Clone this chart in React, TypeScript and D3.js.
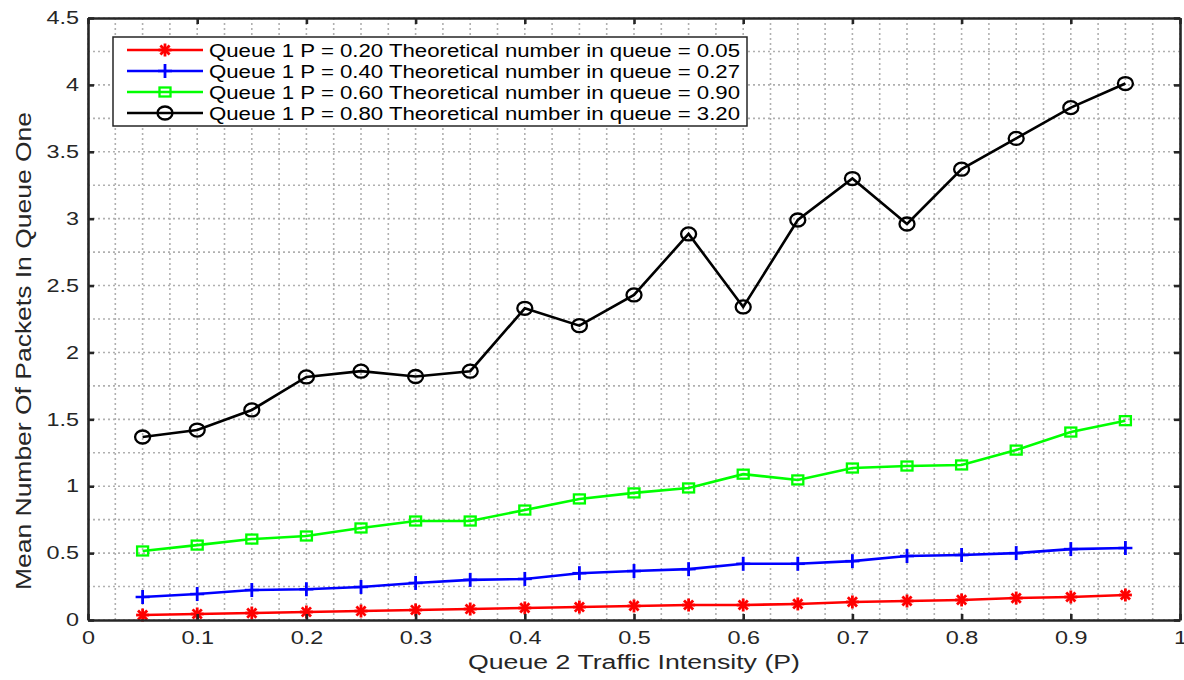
import React, { useRef, useEffect } from 'react';
import * as d3 from 'd3';

const xVals = [0.05, 0.1, 0.15, 0.2, 0.25, 0.3, 0.35, 0.4, 0.45, 0.5, 0.55, 0.6, 0.65, 0.7, 0.75, 0.8, 0.85, 0.9, 0.95];
const q020 = [0.037, 0.045, 0.052, 0.06, 0.067, 0.075, 0.082, 0.09, 0.097, 0.105, 0.112, 0.112, 0.12, 0.135, 0.142, 0.15, 0.164, 0.172, 0.187];
const q040 = [0.172, 0.194, 0.224, 0.23, 0.247, 0.277, 0.3, 0.307, 0.35, 0.366, 0.38, 0.42, 0.42, 0.44, 0.478, 0.486, 0.5, 0.53, 0.538];
const q060 = [0.516, 0.56, 0.605, 0.628, 0.688, 0.74, 0.74, 0.822, 0.905, 0.95, 0.987, 1.09, 1.047, 1.136, 1.151, 1.159, 1.27, 1.405, 1.49];
const q080 = [1.368, 1.42, 1.57, 1.817, 1.86, 1.82, 1.86, 2.33, 2.2, 2.43, 2.886, 2.34, 2.99, 3.3, 2.96, 3.37, 3.6, 3.83, 4.01];
const seriesNames = [
  'Queue 1 P = 0.20 Theoretical number in queue = 0.05',
  'Queue 1 P = 0.40 Theoretical number in queue = 0.27',
  'Queue 1 P = 0.60 Theoretical number in queue = 0.90',
  'Queue 1 P = 0.80 Theoretical number in queue = 3.20',
];
const xTicks = [0, 0.1, 0.2, 0.3, 0.4, 0.5, 0.6, 0.7, 0.8, 0.9, 1];
const yTicks = [0, 0.5, 1, 1.5, 2, 2.5, 3, 3.5, 4, 4.5];

const colors = ['#ff0000', '#0000ff', '#00ff00', '#000000'];
const markers = ['star', 'plus', 'square', 'circle'];

const drawMarker = (g: any, type: string, x: number, y: number, color: string) => {
  if (type === 'star') {
    const r = 6.5;
    for (let i = 0; i < 4; i++) {
      const a = (i * Math.PI) / 4;
      g.append('line')
        .attr('x1', x - r * Math.cos(a)).attr('y1', y - r * Math.sin(a))
        .attr('x2', x + r * Math.cos(a)).attr('y2', y + r * Math.sin(a))
        .attr('stroke', color).attr('stroke-width', 2.8);
    }
  } else if (type === 'plus') {
    const r = 7;
    g.append('line').attr('x1', x - r).attr('y1', y).attr('x2', x + r).attr('y2', y)
      .attr('stroke', color).attr('stroke-width', 2.5);
    g.append('line').attr('x1', x).attr('y1', y - r).attr('x2', x).attr('y2', y + r)
      .attr('stroke', color).attr('stroke-width', 2.8);
  } else if (type === 'square') {
    g.append('rect').attr('x', x - 5.5).attr('y', y - 4.5).attr('width', 11).attr('height', 9)
      .attr('fill', 'none').attr('stroke', color).attr('stroke-width', 2.3);
  } else {
    g.append('ellipse').attr('cx', x).attr('cy', y).attr('rx', 7.5).attr('ry', 6.5)
      .attr('fill', 'none').attr('stroke', color).attr('stroke-width', 2.3);
  }
};

// stretch text horizontally like the source picture
const widen = (sel: any, factor: number) => {
  sel.each(function (this: any) {
    const len = this.getComputedTextLength();
    d3.select(this).attr('textLength', len * factor).attr('lengthAdjust', 'spacingAndGlyphs');
  });
};

const App = () => {
  const chartRef = useRef(null);

  useEffect(() => {
    const container = d3.select(chartRef.current);
    container.selectAll('svg').remove();

    const width = 1184;
    const height = 680;
    const font = 'Liberation Sans, Arial, Helvetica, sans-serif';

    const svg = container.append('svg')
      .attr('width', width)
      .attr('height', height)
      .style('position', 'absolute')
      .style('left', '0px')
      .style('top', '0px')
      .style('background', '#fff');

    const xScale = d3.scaleLinear().domain([0, 1]).range([88, 1180]);
    const yScale = d3.scaleLinear().domain([0, 4.5]).range([620, 18]);

    // grid (minor, dotted)
    const grid = svg.append('g');
    d3.range(0, 1.0001, 0.025).forEach((v) => {
      grid.append('line')
        .attr('x1', xScale(v)).attr('x2', xScale(v))
        .attr('y1', yScale(0)).attr('y2', yScale(4.5))
        .attr('stroke', '#b0b0b0').attr('stroke-width', 1.6).attr('stroke-dasharray', '2,3');
    });
    d3.range(0, 4.5001, 0.25).forEach((v) => {
      grid.append('line')
        .attr('x1', xScale(0)).attr('x2', xScale(1))
        .attr('y1', yScale(v)).attr('y2', yScale(v))
        .attr('stroke', '#b0b0b0').attr('stroke-width', 1.6).attr('stroke-dasharray', '2,3');
    });

    // series
    const allSeries = [q020, q040, q060, q080];
    const line = d3.line<number>()
      .x((_d, i) => xScale(xVals[i]))
      .y((d) => yScale(d));
    allSeries.forEach((vals, si) => {
      const g = svg.append('g');
      g.append('path').datum(vals)
        .attr('d', line)
        .attr('fill', 'none')
        .attr('stroke', colors[si])
        .attr('stroke-width', 2.6);
      vals.forEach((v, i) => drawMarker(g, markers[si], xScale(xVals[i]), yScale(v), colors[si]));
    });

    // axes frame with inward ticks on all sides
    const axisColor = '#262626';
    const bottom = svg.append('g').attr('transform', `translate(0,${yScale(0)})`)
      .call(d3.axisBottom(xScale).tickValues(xTicks).tickSizeInner(-6).tickSizeOuter(0).tickPadding(11).tickFormat(d3.format('')));
    const top = svg.append('g').attr('transform', `translate(0,${yScale(4.5)})`)
      .call(d3.axisTop(xScale).tickValues(xTicks).tickSizeInner(-6).tickSizeOuter(0).tickFormat(() => ''));
    const left = svg.append('g').attr('transform', `translate(${xScale(0)},0)`)
      .call(d3.axisLeft(yScale).tickValues(yTicks).tickSizeInner(-6).tickSizeOuter(0).tickPadding(9).tickFormat(d3.format('')));
    const right = svg.append('g').attr('transform', `translate(${xScale(1)},0)`)
      .call(d3.axisRight(yScale).tickValues(yTicks).tickSizeInner(-6).tickSizeOuter(0).tickFormat(() => ''));
    [bottom, top, left, right].forEach((ax) => {
      ax.select('.domain').attr('stroke', axisColor).attr('stroke-width', 2.6);
      ax.selectAll('.tick line').attr('stroke', axisColor).attr('stroke-width', 2.6);
      ax.selectAll('.tick text').attr('fill', axisColor).style('font-family', font).style('font-size', '18px');
    });
    widen(bottom.selectAll('.tick text'), 1.3);
    widen(left.selectAll('.tick text'), 1.3);

    // axis titles
    svg.append('text')
      .attr('x', 634).attr('y', 669)
      .attr('text-anchor', 'middle')
      .attr('fill', axisColor)
      .style('font-family', font).style('font-size', '20px')
      .attr('textLength', 332).attr('lengthAdjust', 'spacingAndGlyphs')
      .text('Queue 2 Traffic Intensity (P)');
    svg.append('text')
      .attr('transform', `translate(31,351) rotate(-90)`)
      .attr('text-anchor', 'middle')
      .attr('fill', axisColor)
      .style('font-family', font).style('font-size', '22px')
      .attr('textLength', 478).attr('lengthAdjust', 'spacingAndGlyphs')
      .text('Mean Number Of Packets In Queue One');

    // legend
    const lg = svg.append('g');
    lg.append('rect')
      .attr('x', 113).attr('y', 37).attr('width', 634).attr('height', 89)
      .attr('fill', '#fff').attr('stroke', axisColor).attr('stroke-width', 1.5);
    seriesNames.forEach((name, i) => {
      const y = 50 + i * 21;
      lg.append('line').attr('x1', 127).attr('x2', 203).attr('y1', y).attr('y2', y)
        .attr('stroke', colors[i]).attr('stroke-width', 2.6);
      drawMarker(lg, markers[i], 165, y, colors[i]);
      lg.append('text')
        .attr('x', 209).attr('y', y + 6.5)
        .attr('fill', '#000')
        .style('font-family', font).style('font-size', '18px')
        .attr('textLength', 531).attr('lengthAdjust', 'spacingAndGlyphs')
        .text(name);
    });
  }, []);

  return <div ref={chartRef}></div>;
};

export default App;
